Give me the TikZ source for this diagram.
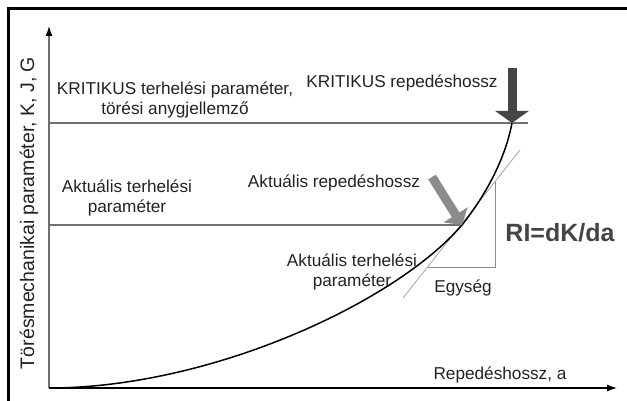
\documentclass[tikz,border=0pt]{standalone}
\usepackage{fontspec}
\setmainfont{Liberation Sans}
\usetikzlibrary{arrows.meta}
\definecolor{darkgr}{HTML}{454545}
\definecolor{midgr}{HTML}{8C8C8C}
\definecolor{linegr}{HTML}{707070}
\definecolor{txt}{HTML}{222222}
\tikzstyle{myaxis}=[line width=1.3pt,-{Latex[black,length=10pt,width=7pt]}]
\tikzstyle{mylevel}=[linegr,line width=1.2pt]
\tikzstyle{mythin}=[midgr,line width=1pt]
\tikzstyle{myblock}=[line width=9pt,-{Triangle[length=12pt,width=33pt]}]
\tikzstyle{mytext}=[txt,font=\fontsize{17.2}{20}\selectfont,align=center,inner sep=0pt]

\begin{document}
\begin{tikzpicture}[x=1pt,y=-1pt]
	\useasboundingbox (0,0) rectangle (627,401);
	\draw[line width=3pt] (8,420) -- (8,9) -- (640,9);

	\coordinate (o) at (49,388);
	\coordinate (ytop) at (49,26);
	\coordinate (xend) at (617,388);
	\foreach \n / \x / \y in {crit/512/123, act/462/225} { \coordinate (\n) at (\x,\y); }

	% axes
	\draw[myaxis,linegr] (o) -- (ytop);
	\draw[myaxis] (o) -- (xend);

	% levels
	\draw[mylevel] (o |- crit) -- (528,123);
	\draw[mylevel] (o |- act) -- (act);

	% tangent and unit triangle
	\coordinate (t1) at (403,298);
	\coordinate (t2) at (520,150);
	\coordinate (e1) at (428,267);
	\coordinate (e2) at (495,267);
	\coordinate (e3) at (495,182);
	\draw[mythin,line width=0.8pt,midgr!80] (t1) -- (t2);
	\draw[mythin] (e1) -- (e2) -- (e3);

	% curve
	\draw[line width=1.5pt] (o) .. controls (210,388) and (395,303) .. (act) .. controls (485,196) and (505,160) .. (crit);

	% block arrows
	\coordinate (ca) at (512,68);
	\coordinate (aa) at (432,177);
	\draw[myblock,darkgr] (ca) -- (crit);
	\draw[myblock,midgr,-{Triangle[length=12pt,width=28pt]}] (aa) -- (act);

	% labels
	\node[mytext] (critpar) at (175,100) {KRITIKUS terhelési paraméter,\\törési anygjellemző};
	\node[mytext] (critlen) at (402,83) {KRITIKUS repedéshossz};
	\node[mytext] (actpar) at (127,198) {Aktuális terhelési\\paraméter};
	\node[mytext] (actlen) at (334,183) {Aktuális repedéshossz};
	\node[mytext] (tanpar) at (352,272) {Aktuális terhelési\\paraméter};
	\node[mytext] (unit) at (463,288) {Egység};
	\node[mytext,font=\bfseries\fontsize{25}{30}\selectfont,darkgr] (ri) at (560,233) {RI=dK/da};
	\node[mytext] (xlab) at (500,375) {Repedéshossz, a};
	\node[mytext,font=\fontsize{19.5}{24}\selectfont,rotate=90] (ylab) at (29,213) {Törésmechanikai paraméter, K, J, G};
\end{tikzpicture}
\end{document}
